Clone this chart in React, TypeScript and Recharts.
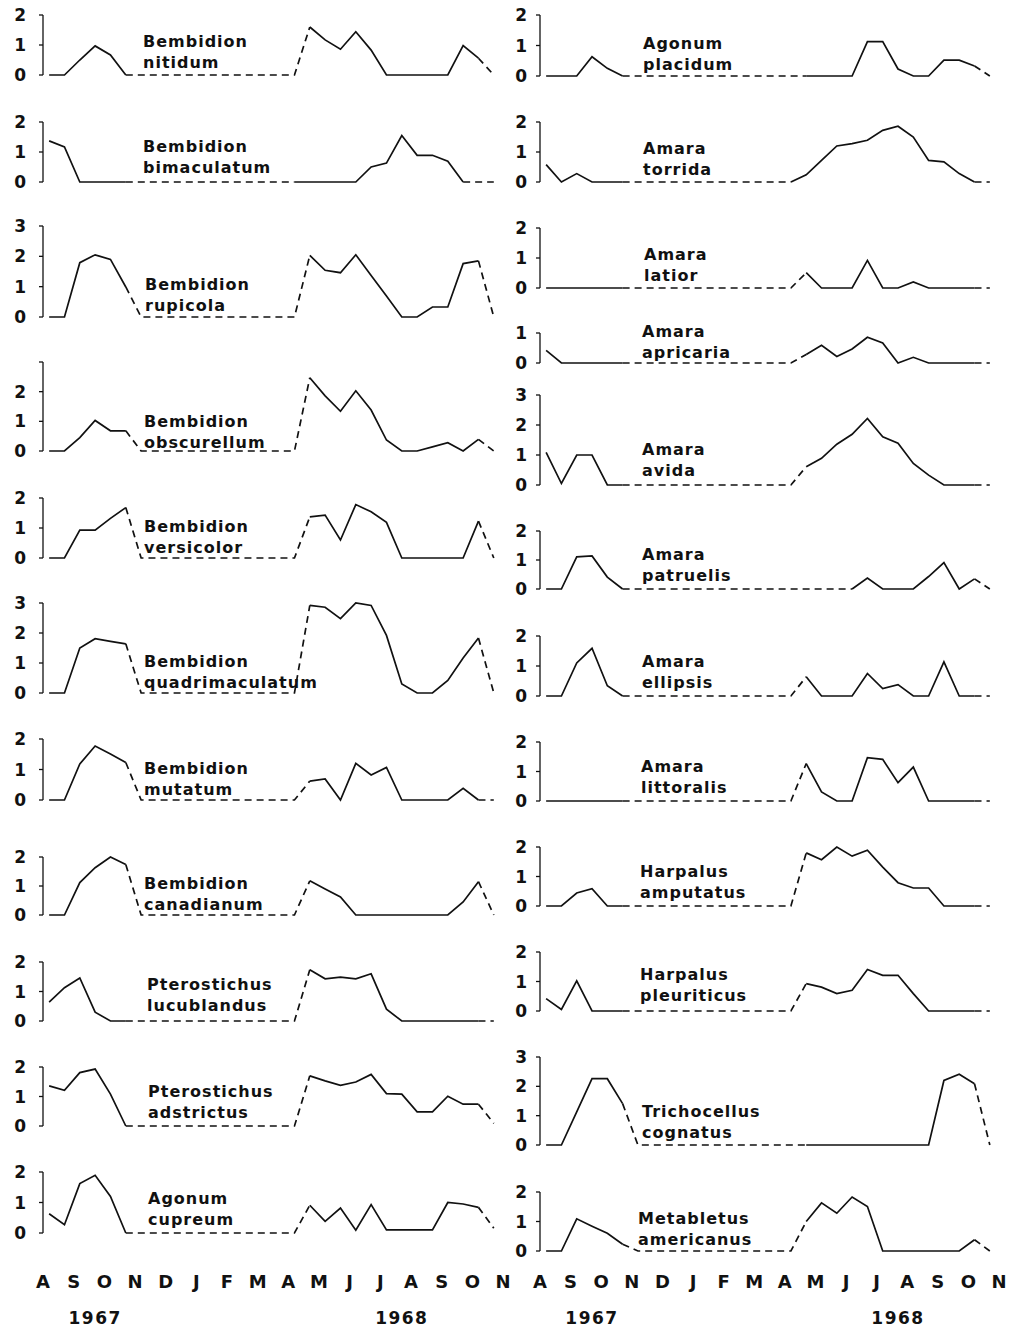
import { LineChart, Line, XAxis, YAxis } from "recharts";

const _ = null;

// sampling dates, months after 1 Aug 1967 (fortnightly)
const DATES = [
  0.2, 0.7, 1.2, 1.7, 2.2, 2.7, 3.2, 3.7, 4.2, 4.7, 5.2, 5.7, 6.2, 6.7, 7.2,
  7.7, 8.2, 8.7, 9.2, 9.7, 10.2, 10.7, 11.2, 11.7, 12.2, 12.7, 13.2, 13.7, 14.2, 14.7,
];
const MONTHS = ["A", "S", "O", "N", "D", "J", "F", "M", "A", "M", "J", "J", "A", "S", "O", "N"];
const YEARS = ["1967", "1968"];
const YEAR_AT = [1.7, 11.7];

// ---- left column ----
const nitidum = [0, 0, 0.5, 0.97, 0.67, 0, _, _, _, _, _, _, _, _, _, _, 0, 1.6, 1.17, 0.86, 1.44, 0.83, 0, 0, 0, 0, 0, 0.98, 0.56, 0];
const bimaculatum = [1.37, 1.17, 0, 0, 0, 0, _, _, _, _, _, _, _, _, _, _, 0, 0, 0, 0, 0, 0.5, 0.63, 1.55, 0.89, 0.89, 0.69, 0, 0, 0];
const rupicola = [0, 0, 1.79, 2.05, 1.9, 0.99, 0, _, _, _, _, _, _, _, _, _, 0, 2.03, 1.54, 1.46, 2.05, 1.37, 0.69, 0, 0, 0.33, 0.33, 1.76, 1.85, 0];
const obscurellum = [0, 0, 0.45, 1.03, 0.68, 0.68, 0, _, _, _, _, _, _, _, _, _, 0, 2.47, 1.86, 1.34, 2.03, 1.38, 0.37, 0, 0, 0.14, 0.28, 0, 0.39, 0];
const versicolor = [0, 0, 0.93, 0.93, 1.32, 1.68, 0, _, _, _, _, _, _, _, _, _, 0, 1.37, 1.43, 0.6, 1.78, 1.54, 1.19, 0, 0, 0, 0, 0, 1.23, 0];
const quadrimaculatum = [0, 0, 1.5, 1.81, 1.72, 1.64, 0, _, _, _, _, _, _, _, _, _, 0, 2.92, 2.86, 2.48, 3.0, 2.92, 1.92, 0.3, 0, 0, 0.42, 1.17, 1.83, 0];
const mutatum = [0, 0, 1.18, 1.77, 1.51, 1.23, 0, _, _, _, _, _, _, _, _, _, 0, 0.62, 0.69, 0, 1.2, 0.82, 1.07, 0, 0, 0, 0, 0.38, 0, 0];
const canadianum = [0, 0, 1.12, 1.63, 2.0, 1.74, 0, _, _, _, _, _, _, _, _, _, 0, 1.18, 0.9, 0.62, 0, 0, 0, 0, 0, 0, 0, 0.45, 1.15, 0];
const lucublandus = [0.64, 1.13, 1.46, 0.3, 0, 0, _, _, _, _, _, _, _, _, _, _, 0, 1.74, 1.43, 1.49, 1.43, 1.6, 0.4, 0, 0, 0, 0, 0, 0, 0];
const adstrictus = [1.36, 1.21, 1.81, 1.93, 1.08, 0, _, _, _, _, _, _, _, _, _, _, 0, 1.7, 1.53, 1.38, 1.49, 1.75, 1.1, 1.08, 0.48, 0.48, 1.01, 0.74, 0.74, 0.09];
const cupreum = [0.63, 0.27, 1.62, 1.89, 1.2, 0, _, _, _, _, _, _, _, _, _, _, 0, 0.91, 0.38, 0.82, 0.09, 0.93, 0.1, 0.1, 0.1, 0.1, 1.0, 0.95, 0.84, 0.16];

// ---- right column ----
const placidum = [0, 0, 0, 0.63, 0.25, 0, _, _, _, _, _, _, _, _, _, _, 0, 0, 0, 0, 0, 1.13, 1.13, 0.23, 0, 0, 0.52, 0.52, 0.33, 0];
const torrida = [0.58, 0, 0.28, 0, 0, 0, _, _, _, _, _, _, _, _, _, _, 0, 0.24, 0.72, 1.2, 1.28, 1.39, 1.72, 1.86, 1.5, 0.72, 0.67, 0.28, 0, 0];
const latior = [0, 0, 0, 0, 0, 0, _, _, _, _, _, _, _, _, _, _, 0, 0.51, 0, 0, 0, 0.92, 0, 0, 0.2, 0, 0, 0, 0, 0];
const apricaria = [0.42, 0, 0, 0, 0, 0, _, _, _, _, _, _, _, _, _, _, 0, 0.28, 0.59, 0.22, 0.47, 0.86, 0.67, 0, 0.19, 0, 0, 0, 0, 0];
const avida = [1.09, 0.05, 1.0, 1.0, 0, 0, _, _, _, _, _, _, _, _, _, _, 0, 0.61, 0.89, 1.36, 1.69, 2.22, 1.61, 1.39, 0.72, 0.33, 0, 0, 0, 0];
const patruelis = [0, 0, 1.11, 1.14, 0.41, 0, _, _, _, _, _, _, _, _, _, _, 0, _, _, _, 0, 0.38, 0, 0, 0, 0.43, 0.91, 0, 0.35, 0];
const ellipsis = [0, 0, 1.1, 1.59, 0.34, 0, _, _, _, _, _, _, _, _, _, _, 0, 0.64, 0, 0, 0, 0.75, 0.25, 0.38, 0, 0, 1.14, 0, 0, 0];
const littoralis = [0, 0, 0, 0, 0, 0, _, _, _, _, _, _, _, _, _, _, 0, 1.27, 0.31, 0, 0, 1.47, 1.41, 0.62, 1.15, 0, 0, 0, 0, 0];
const amputatus = [0, 0, 0.44, 0.59, 0, 0, _, _, _, _, _, _, _, _, _, _, 0, 1.8, 1.57, 2.0, 1.69, 1.89, 1.32, 0.79, 0.61, 0.61, 0, 0, 0, 0];
const pleuriticus = [0.42, 0.05, 1.02, 0, 0, 0, _, _, _, _, _, _, _, _, _, _, 0, 0.93, 0.81, 0.59, 0.7, 1.41, 1.21, 1.21, 0.59, 0, 0, 0, 0, 0];
const cognatus = [0, 0, 1.13, 2.26, 2.26, 1.41, 0, _, _, _, _, _, _, _, _, _, 0, 0, 0, 0, 0, 0, 0, 0, 0, 0, 2.2, 2.41, 2.09, 0];
const americanus = [0, 0, 1.09, 0.84, 0.6, 0.23, 0, _, _, _, _, _, _, _, _, _, 0, 1.0, 1.63, 1.28, 1.83, 1.51, 0, 0, 0, 0, 0, 0, 0.38, 0];

const LEFT_NAMES = [
  ["Bembidion", "nitidum"], ["Bembidion", "bimaculatum"], ["Bembidion", "rupicola"],
  ["Bembidion", "obscurellum"], ["Bembidion", "versicolor"], ["Bembidion", "quadrimaculatum"],
  ["Bembidion", "mutatum"], ["Bembidion", "canadianum"], ["Pterostichus", "lucublandus"],
  ["Pterostichus", "adstrictus"], ["Agonum", "cupreum"],
];
const LEFT_VALUES = [nitidum, bimaculatum, rupicola, obscurellum, versicolor, quadrimaculatum, mutatum, canadianum, lucublandus, adstrictus, cupreum];
const LEFT_MAX = [2, 2, 3, 3, 2, 3, 2, 2, 2, 2, 2];
// segments drawn dashed (index ranges of samples)
const LEFT_DASHED = [
  [[5, 17], [28, 29]], [[5, 16], [27, 29]], [[5, 17], [28, 29]], [[5, 17], [28, 29]],
  [[5, 17], [28, 29]], [[5, 17], [28, 29]], [[5, 17], [28, 29]], [[5, 17], [28, 29]],
  [[5, 17], [28, 29]], [[5, 17], [28, 29]], [[5, 17], [28, 29]],
];

const RIGHT_NAMES = [
  ["Agonum", "placidum"], ["Amara", "torrida"], ["Amara", "latior"], ["Amara", "apricaria"],
  ["Amara", "avida"], ["Amara", "patruelis"], ["Amara", "ellipsis"], ["Amara", "littoralis"],
  ["Harpalus", "amputatus"], ["Harpalus", "pleuriticus"], ["Trichocellus", "cognatus"],
  ["Metabletus", "americanus"],
];
const RIGHT_VALUES = [placidum, torrida, latior, apricaria, avida, patruelis, ellipsis, littoralis, amputatus, pleuriticus, cognatus, americanus];
const RIGHT_MAX = [2, 2, 2, 1, 3, 2, 2, 2, 2, 2, 3, 2];
const RIGHT_DASHED = [
  [[5, 17], [28, 29]], [[5, 16], [28, 29]], [[5, 17], [28, 29]], [[5, 17], [28, 29]],
  [[5, 17], [28, 29]], [[5, 20], [28, 29]], [[5, 17], [28, 29]], [[5, 17], [28, 29]],
  [[5, 17], [28, 29]], [[5, 17], [28, 29]], [[5, 17], [28, 29]], [[5, 17], [28, 29]],
];

// ---- layout (page pixels) ----
const LEFT_ZERO_Y = [75, 182, 317, 451, 558, 693, 800, 915, 1021, 1126, 1233];
const LEFT_TOP_Y = [15, 122, 226, 362, 498, 603, 739, 857, 962, 1067, 1172];
const LEFT_LABEL = [[143, 35], [143, 140], [145, 278], [144, 415], [144, 520], [144, 655], [144, 762], [144, 877], [147, 978], [148, 1085], [148, 1192]];
const RIGHT_ZERO_Y = [76, 182, 288, 363, 485, 589, 696, 801, 906, 1011, 1145, 1251];
const RIGHT_TOP_Y = [15, 122, 228, 333, 395, 531, 636, 742, 847, 952, 1057, 1192];
const RIGHT_LABEL = [[643, 37], [643, 142], [644, 248], [642, 325], [642, 443], [642, 548], [642, 655], [641, 760], [640, 865], [640, 968], [642, 1105], [638, 1212]];

const YW = 40;
const PAD = 10;
const INK = "#111";
const FONT = "'DejaVu Sans', sans-serif";

const LEFT_COL = { plotLeft: 43, plotW: 460, tickMargin: 13 };
const RIGHT_COL = { plotLeft: 540, plotW: 459, tickMargin: 9 };

type Col = typeof LEFT_COL;

function buildRuns(values: (number | null)[], dashed: number[][]) {
  const idx = values.map((v, k) => (v === null ? -1 : k)).filter((k) => k >= 0);
  const rows: any[] = DATES.map((x) => ({ x }));
  const runs: { key: string; dashed: boolean }[] = [];
  let cur: { key: string; dashed: boolean } | null = null;
  for (let s = 0; s < idx.length - 1; s++) {
    const a = idx[s];
    const b = idx[s + 1];
    const isDash = dashed.some(([lo, hi]) => lo <= a && b <= hi);
    if (!cur || cur.dashed !== isDash) {
      cur = { key: "r" + runs.length, dashed: isDash };
      runs.push(cur);
    }
    rows[a][cur.key] = values[a];
    rows[b][cur.key] = values[b];
  }
  return { rows, runs };
}

function Panel({ col, values, dashed, max, topY, zeroY, hideTop }: any) {
  const { rows, runs } = buildRuns(values, dashed);
  const ticks = Array.from({ length: max + 1 }, (_v, i) => i);
  return (
    <div style={{ position: "absolute", left: col.plotLeft - YW, top: topY - PAD }}>
      <LineChart
        width={YW + col.plotW + 10}
        height={zeroY - topY + 2 * PAD}
        data={rows}
        margin={{ top: PAD, right: 10, bottom: PAD, left: 0 }}
      >
        <XAxis type="number" dataKey="x" domain={[0, 15]} hide />
        <YAxis
          type="number"
          domain={[0, max]}
          ticks={ticks}
          interval={0}
          width={YW}
          axisLine={{ stroke: INK, strokeWidth: 1.3 }}
          tickLine={{ stroke: INK, strokeWidth: 1.3 }}
          tickSize={4}
          tickMargin={col.tickMargin}
          tick={{ fill: INK, fontSize: 17, fontWeight: 700, fontFamily: FONT }}
          tickFormatter={(v: number) => (hideTop && v === max ? "" : String(v))}
        />
        {runs.map((r) => (
          <Line
            key={r.key}
            dataKey={r.key}
            type="linear"
            stroke={INK}
            strokeWidth={1.7}
            strokeDasharray={r.dashed ? "7 5" : undefined}
            dot={false}
            activeDot={false}
            connectNulls
            isAnimationActive={false}
          />
        ))}
      </LineChart>
    </div>
  );
}

function AxisStrip({ col }: { col: Col }) {
  const data = MONTHS.map((_m, i) => ({ x: i }));
  const tickStyle = { fill: INK, fontSize: 18, fontWeight: 700, fontFamily: FONT };
  return (
    <div style={{ position: "absolute", left: col.plotLeft - YW, top: 1265 }}>
      <LineChart width={YW + col.plotW + 20} height={80} data={data} margin={{ top: 0, right: 20, bottom: 0, left: YW }}>
        <XAxis
          type="number"
          dataKey="x"
          domain={[0, 15]}
          ticks={MONTHS.map((_m, i) => i)}
          interval={0}
          tickFormatter={(v: number) => MONTHS[v]}
          axisLine={false}
          tickLine={false}
          tickSize={0}
          tickMargin={0}
          height={30}
          tick={tickStyle}
        />
        <XAxis
          xAxisId="yr"
          type="number"
          dataKey="x"
          domain={[0, 15]}
          ticks={YEAR_AT}
          interval={0}
          tickFormatter={(v: number) => YEARS[YEAR_AT.indexOf(v)]}
          axisLine={false}
          tickLine={false}
          tickSize={0}
          tickMargin={7}
          height={40}
          tick={{ ...tickStyle, fontSize: 17, letterSpacing: 1.5 }}
        />
        <YAxis hide domain={[0, 15]} />
        <Line dataKey="x" stroke="none" dot={false} activeDot={false} isAnimationActive={false} />
      </LineChart>
    </div>
  );
}

function Name({ lines, x, y }: { lines: string[]; x: number; y: number }) {
  return (
    <div
      style={{
        position: "absolute",
        left: x,
        top: y - 4,
        fontFamily: FONT,
        fontWeight: 700,
        fontSize: 16,
        lineHeight: "21px",
        letterSpacing: 1,
        color: INK,
        whiteSpace: "nowrap",
      }}
    >
      {lines.map((l) => (
        <div key={l}>{l}</div>
      ))}
    </div>
  );
}

export default function App() {
  return (
    <div style={{ position: "absolute", left: 0, top: 0, width: 1010, height: 1334, background: "#fff", overflow: "hidden" }}>
      {LEFT_VALUES.map((v, i) => (
        <Panel
          key={"l" + i}
          col={LEFT_COL}
          values={v}
          dashed={LEFT_DASHED[i]}
          max={LEFT_MAX[i]}
          topY={LEFT_TOP_Y[i]}
          zeroY={LEFT_ZERO_Y[i]}
          hideTop={i === 3}
        />
      ))}
      {RIGHT_VALUES.map((v, i) => (
        <Panel
          key={"r" + i}
          col={RIGHT_COL}
          values={v}
          dashed={RIGHT_DASHED[i]}
          max={RIGHT_MAX[i]}
          topY={RIGHT_TOP_Y[i]}
          zeroY={RIGHT_ZERO_Y[i]}
          hideTop={false}
        />
      ))}
      {LEFT_NAMES.map((n, i) => (
        <Name key={"ln" + i} lines={n} x={LEFT_LABEL[i][0]} y={LEFT_LABEL[i][1]} />
      ))}
      {RIGHT_NAMES.map((n, i) => (
        <Name key={"rn" + i} lines={n} x={RIGHT_LABEL[i][0]} y={RIGHT_LABEL[i][1]} />
      ))}
      <AxisStrip col={LEFT_COL} />
      <AxisStrip col={RIGHT_COL} />
    </div>
  );
}
